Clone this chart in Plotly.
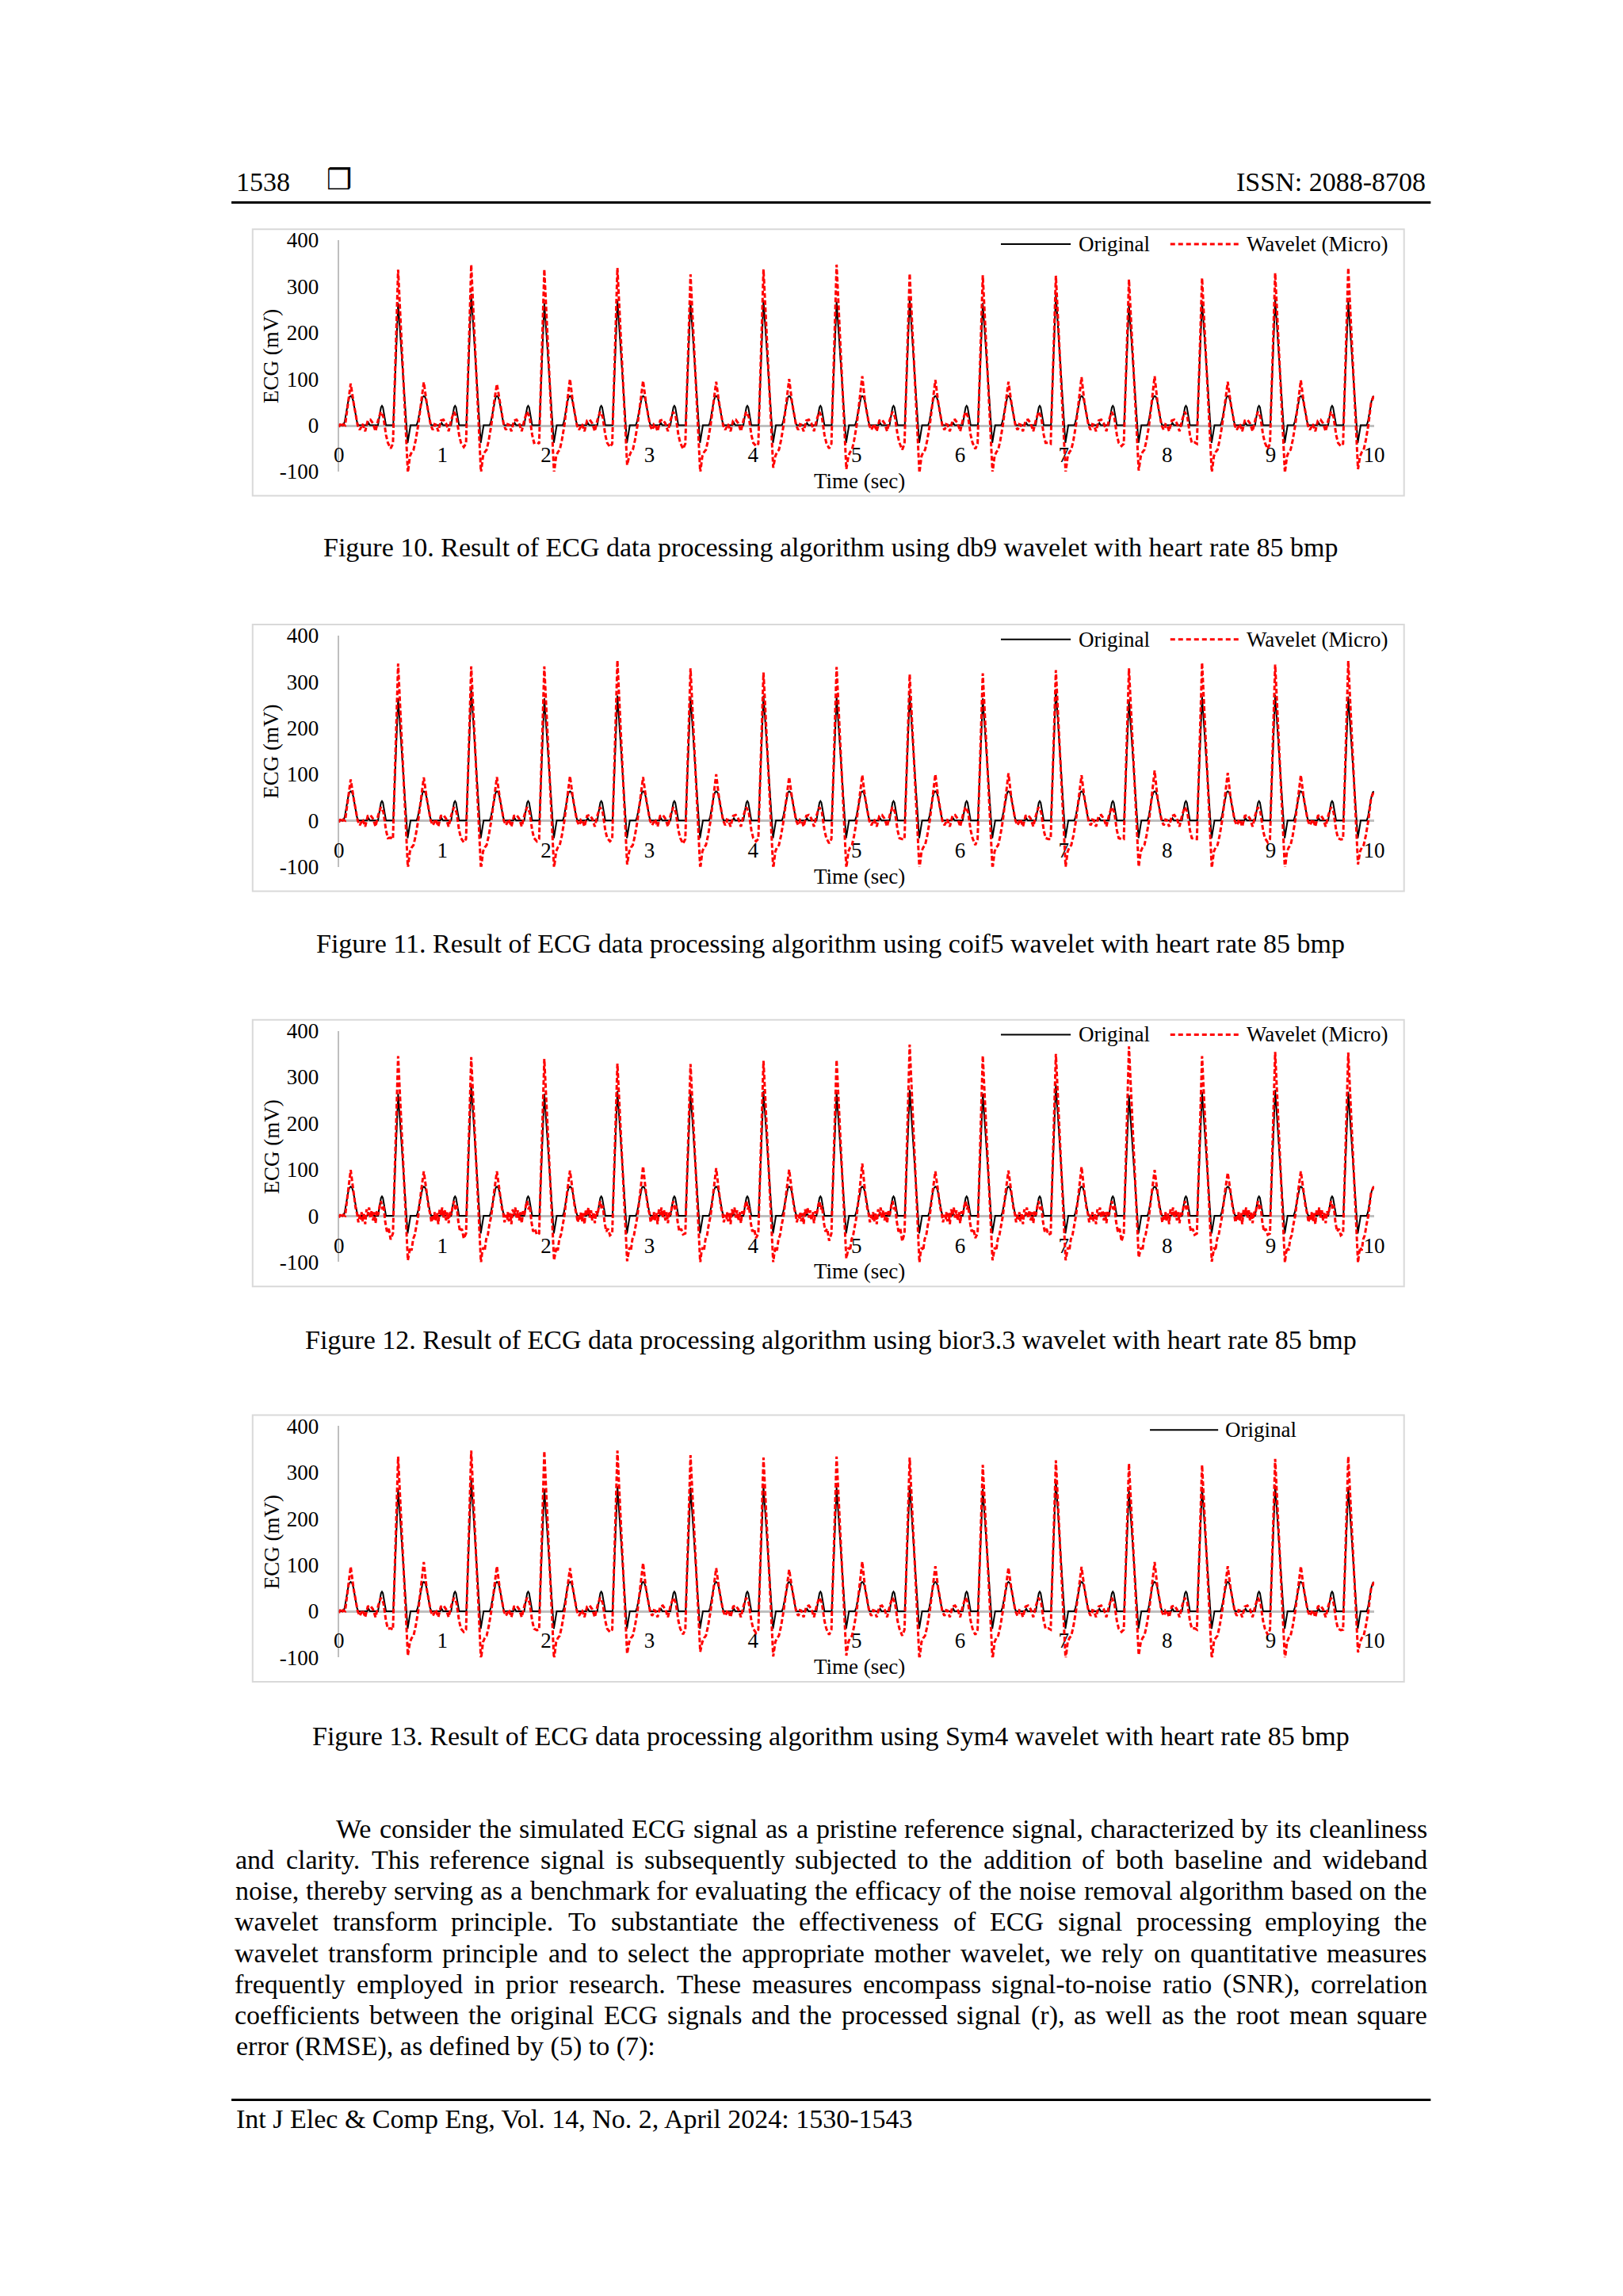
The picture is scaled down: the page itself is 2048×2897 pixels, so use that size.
import plotly.graph_objects as go

W, H = 2048, 2897

# ---------------- data ----------------
x_tick_vals = [0, 1, 2, 3, 4, 5, 6, 7, 8, 9, 10]
y_tick_vals = [-100, 0, 100, 200, 300, 400]
y_tick_text = ["-100", "0", "100", "200", "300", "400"]

# R-peak instants of the 85 bpm simulated ECG (beat 0 lies before t=0)
beat_r_times = [-0.134, 0.572, 1.278, 1.984, 2.690, 3.396, 4.101, 4.807,
                5.513, 6.219, 6.925, 7.631, 8.337, 9.043, 9.749]

# original (clean) signal: R height of beats 1..14 and one-beat shape
orig_r_peak = [264, 284, 264, 270, 267, 270, 267, 272, 264, 284, 261, 268, 272, 268]
orig_tmpl_off = [-0.353, -0.300, -0.286, -0.272, -0.194, -0.184, -0.174, -0.165,
                 -0.156, -0.147, -0.137, -0.127, -0.117, -0.047, 0.0, 0.092,
                 0.120, 0.134, 0.178, 0.190, 0.200, 0.212, 0.225, 0.237, 0.248,
                 0.260, 0.272, 0.284, 0.296, 0.308, 0.320, 0.352]
orig_tmpl_val = [0, 0, 5, 0, 0, 11, 28, 39, 42, 39, 28, 11, 0, 0, 'R', -38,
                 0, 0, 0, 8, 20, 38, 53, 61, 63, 61, 53, 38, 20, 8, 0, 0]

# wavelet output: one-beat shape (db9 / coif5 / Sym4)
red_tmpl_a_off = [-0.353, -0.340, -0.318, -0.293, -0.268, -0.243, -0.218, -0.192,
                  -0.167, -0.142, -0.117, -0.099, -0.072, -0.050, 0.0, 0.094,
                  0.114, 0.131, 0.149, 0.169, 0.194, 0.220, 0.248, 0.275, 0.300,
                  0.315, 0.335, 0.350]
red_tmpl_a_val = [2, 1, -13, 10, 12, 4, -13, 12, 29, 18, -21, -38, 'pre', -40,
                  'R', 'S', -67, -58, -53, -33, 0, 48, 'T', 50, 14, 0, -10, -4]
# wavelet output: one-beat shape (bior3.3, more jagged)
red_tmpl_b_off = [-0.353, -0.342, -0.330, -0.318, -0.305, -0.292, -0.280, -0.268,
                  -0.255, -0.243, -0.230, -0.218, -0.205, -0.192, -0.178, -0.165,
                  -0.152, -0.140, -0.125, -0.108, -0.090, -0.072, -0.050, 0.0,
                  0.094, 0.105, 0.117, 0.130, 0.145, 0.160, 0.175, 0.194, 0.220,
                  0.248, 0.275, 0.295, 0.310, 0.322, 0.338, 0.350]
red_tmpl_b_val = [8, -12, 6, -18, 14, 2, 18, -4, 12, -10, 8, -16, 10, 2, 22, 32,
                  14, 22, -12, -34, -28, 'pre', -38, 'R', 'S', -80, -68, -75, -50,
                  -42, -20, 0, 50, 'T', 52, 18, 4, -14, 2, -8]
red_lead_t = [0.0, 0.012, 0.025, 0.040]
red_lead_v = [-4, 3, -3, 2]

# per-beat extremes of the wavelet output (R, S, pre-R dip: beats 1..14; T: beats 0..14)
db9_r = [336, 347, 337, 340, 326, 337, 347, 328, 324, 323, 315, 318, 329, 340]
db9_s = [-103, -103, -103, -86, -103, -92, -95, -103, -103, -103, -98, -103, -103, -95]
db9_t = [90, 93, 89, 100, 96, 94, 100, 106, 98, 94, 104, 106, 94, 97, 64]
db9_pre = [-50, -47, -36, -47, -51, -45, -50, -53, -51, -38, -45, -37, -51, -45]

coif5_r = [339, 333, 333, 346, 329, 320, 332, 316, 318, 325, 329, 341, 337, 345]
coif5_s = [-103, -105, -103, -95, -105, -105, -103, -105, -105, -100, -100, -103, -105, -95]
coif5_t = [89, 93, 94, 96, 94, 100, 94, 98, 100, 102, 98, 108, 103, 98, 63]
coif5_pre = [-37, -47, -45, -45, -50, -45, -49, -40, -53, -40, -40, -40, -47, -41]

bior33_r = [345, 343, 339, 329, 328, 335, 337, 370, 346, 350, 366, 345, 354, 353]
bior33_s = [-96, -102, -96, -98, -102, -102, -92, -102, -96, -96, -90, -99, -102, -102]
bior33_t = [99, 96, 96, 98, 107, 103, 100, 113, 96, 98, 106, 99, 93, 96, 64]
bior33_pre = [-51, -49, -41, -42, -40, -48, -54, -55, -48, -41, -55, -41, -41, -42]

sym4_r = [334, 347, 346, 347, 337, 332, 334, 332, 316, 326, 319, 316, 329, 334]
sym4_s = [-96, -105, -105, -92, -88, -98, -96, -105, -105, -105, -95, -105, -105, -89]
sym4_t = [96, 106, 97, 93, 104, 93, 90, 107, 97, 94, 96, 106, 97, 97, 63]
sym4_pre = [-37, -45, -41, -45, -50, -47, -51, -53, -51, -37, -45, -37, -51, -41]

# ---------------- text ----------------
header_left = "1538"
header_symbol = "\u2752"
header_right = "ISSN: 2088-8708"
captions = [
    "Figure 10. Result of ECG data processing algorithm using db9 wavelet with heart rate 85 bmp",
    "Figure 11. Result of ECG data processing algorithm using coif5 wavelet with heart rate 85 bmp",
    "Figure 12. Result of ECG data processing algorithm using bior3.3 wavelet with heart rate 85 bmp",
    "Figure 13. Result of ECG data processing algorithm using Sym4 wavelet with heart rate 85 bmp",
]
legend_names = ["Original", "Wavelet (Micro)"]
y_title = "ECG (mV)"
x_title = "Time (sec)"
paragraph = [
    "We consider the simulated ECG signal as a pristine reference signal, characterized by its cleanliness",
    "and clarity. This reference signal is subsequently subjected to the addition of both baseline and wideband",
    "noise, thereby serving as a benchmark for evaluating the efficacy of the noise removal algorithm based on the",
    "wavelet transform principle. To substantiate the effectiveness of ECG signal processing employing the",
    "wavelet transform principle and to select the appropriate mother wavelet, we rely on quantitative measures",
    "frequently employed in prior research. These measures encompass signal-to-noise ratio (SNR), correlation",
    "coefficients between the original ECG signals and the processed signal (r), as well as the root mean square",
    "error (RMSE), as defined by (5) to (7):",
]
footer = "Int J Elec & Comp Eng, Vol. 14, No. 2, April 2024: 1530-1543"

# ---------------- build series ----------------
def series_orig():
    xs, ys = [], []
    for k, tr in enumerate(beat_r_times):
        for off, v in zip(orig_tmpl_off, orig_tmpl_val):
            t = round(tr + off, 4)
            if t < -1e-9 or t > 10.005:
                continue
            if v == 'R':
                v = orig_r_peak[k - 1]
            xs.append(t)
            ys.append(v)
    return xs, ys


def series_red(toff, tval, rv, sv, tv, pv):
    xs, ys = list(red_lead_t), list(red_lead_v)
    for k, tr in enumerate(beat_r_times):
        for off, v in zip(toff, tval):
            t = round(tr + off, 4)
            if t > 10.005:
                continue
            if k == 0 and off < 0.19:
                continue
            if v == 'R':
                v = rv[k - 1]
            elif v == 'S':
                v = sv[k - 1]
            elif v == 'T':
                v = tv[k]
            elif v == 'pre':
                v = pv[k - 1]
            xs.append(t)
            ys.append(v)
    return xs, ys


charts = [
    (red_tmpl_a_off, red_tmpl_a_val, db9_r, db9_s, db9_t, db9_pre, True),
    (red_tmpl_a_off, red_tmpl_a_val, coif5_r, coif5_s, coif5_t, coif5_pre, True),
    (red_tmpl_b_off, red_tmpl_b_val, bior33_r, bior33_s, bior33_t, bior33_pre, True),
    (red_tmpl_a_off, red_tmpl_a_val, sym4_r, sym4_s, sym4_t, sym4_pre, False),
]

SERIF = "Liberation Serif"
RED = "#ff0000"
GRAY = "#bfbfbf"

def px(x):
    return x / W

def py(y):
    return 1 - y / H

fig = go.Figure()
layout = {}
shapes = []
annotations = []

ox, oy = series_orig()
CH = 504
CAP_Y = [683, 1188, 1693, 2198]
for k, (toff, tval, rv, sv, tv, pv, two_leg) in enumerate(charts):
    xn = 'x' if k == 0 else f'x{k+1}'
    yn = 'y' if k == 0 else f'y{k+1}'
    zero = 527 + CH * k
    top = zero - 236
    bot = zero + 59
    fig.add_trace(go.Scatter(x=ox, y=oy, mode='lines', xaxis=xn, yaxis=yn,
                             line=dict(color='black', width=2), name=legend_names[0],
                             showlegend=False, hoverinfo='skip'))
    rx, ry = series_red(toff, tval, rv, sv, tv, pv)
    fig.add_trace(go.Scatter(x=rx, y=ry, mode='lines', xaxis=xn, yaxis=yn,
                             line=dict(color=RED, width=3, dash='6px,3px'),
                             name=legend_names[1], showlegend=False, hoverinfo='skip'))
    layout['xaxis' if k == 0 else f'xaxis{k+1}'] = dict(
        domain=[px(425), px(1745)], range=[0, 10], anchor='free', position=py(zero),
        showline=True, linecolor=GRAY, linewidth=3, ticks='', tickvals=x_tick_vals,
        tickfont=dict(family=SERIF, size=27, color='black'), ticklabelstandoff=12,
        showgrid=False, zeroline=False, layer='below traces', fixedrange=True)
    layout['yaxis' if k == 0 else f'yaxis{k+1}'] = dict(
        domain=[py(bot), py(top)], range=[-100, 400], anchor=xn,
        showline=True, linecolor=GRAY, linewidth=2, ticks='', tickvals=y_tick_vals,
        ticktext=y_tick_text,
        tickfont=dict(family=SERIF, size=27, color='black'), ticklabelstandoff=18,
        showgrid=False, zeroline=False, layer='below traces', fixedrange=True)
    # chart frame
    shapes.append(dict(type='rect', xref='paper', yref='paper',
                       x0=px(315), x1=px(1783), y0=py(277 + CH * k), y1=py(617 + CH * k),
                       line=dict(color='#d9d9d9', width=2), fillcolor='rgba(0,0,0,0)', layer='below'))
    # axis titles
    annotations.append(dict(text=y_title, x=px(339), y=py(439 + CH * k), xref='paper', yref='paper',
                            textangle=-90, showarrow=False, xanchor='center', yanchor='middle',
                            font=dict(family=SERIF, size=27, color='black')))
    annotations.append(dict(text=x_title, x=px(1089), y=py(598 + CH * k), xref='paper', yref='paper',
                            showarrow=False, xanchor='center', yanchor='middle',
                            font=dict(family=SERIF, size=27, color='black')))
    # legend
    ly = 296 + CH * k
    if two_leg:
        items = [(1269, 1358, 1367, 'black', 2, 'solid', legend_names[0]),
                 (1485, 1573, 1581, RED, 3, '6px,4px', legend_names[1])]
    else:
        items = [(1459, 1546, 1554, 'black', 2, 'solid', legend_names[0])]
    for x0, x1, xt, col, lw, dsh, name in items:
        shapes.append(dict(type='line', xref='paper', yref='paper', x0=px(x0), x1=px(x1),
                           y0=py(ly), y1=py(ly), line=dict(color=col, width=lw, dash=dsh)))
        annotations.append(dict(text=name, x=px(xt), y=py(ly), xref='paper', yref='paper',
                                showarrow=False, xanchor='left', yanchor='middle', borderpad=0,
                                font=dict(family=SERIF, size=27, color='black')))
    # caption
    annotations.append(dict(text=captions[k], x=px(1052), y=py(CAP_Y[k]), xref='paper',
                            yref='paper', showarrow=False, xanchor='center', yanchor='middle',
                            font=dict(family=SERIF, size=34, color='black')))

# header / footer
TXT = dict(family=SERIF, size=34, color='black')
annotations.append(dict(text=header_left, x=px(293), y=py(217), xref='paper', yref='paper',
                        showarrow=False, xanchor='left', yanchor='middle', borderpad=0, font=TXT))
annotations.append(dict(text="<b>" + header_symbol + "</b>", x=px(425), y=py(214), xref='paper',
                        yref='paper', showarrow=False, xanchor='center', yanchor='middle',
                        font=dict(family='DejaVu Sans', size=36, color='black')))
annotations.append(dict(text=header_right, x=px(1812), y=py(217), xref='paper', yref='paper',
                        showarrow=False, xanchor='right', yanchor='middle', borderpad=0, font=TXT))
for yl in (243, 2662):
    shapes.append(dict(type='line', xref='paper', yref='paper', x0=px(288), x1=px(1817),
                       y0=py(yl), y1=py(yl), line=dict(color='black', width=3)))
annotations.append(dict(text=footer, x=px(293), y=py(2686), xref='paper', yref='paper',
                        showarrow=False, xanchor='left', yanchor='middle', borderpad=0, font=TXT))

# justified paragraph (Times metrics), each word centred on its computed slot
TW = {' ': 250, '!': 333, '(': 333, ')': 333, ',': 250, '-': 333, '.': 250, ':': 278,
      ';': 278, '?': 444, '&': 778, '/': 278}
for c in '0123456789':
    TW[c] = 500
TW.update(dict(A=722, B=667, C=667, D=722, E=611, F=556, G=722, H=722, I=333, J=389, K=722,
               L=611, M=889, N=722, O=722, P=556, Q=722, R=667, S=556, T=611, U=722, V=722,
               W=944, X=722, Y=722, Z=611))
TW.update(dict(a=444, b=500, c=444, d=500, e=444, f=333, g=500, h=500, i=278, j=278, k=500,
               l=278, m=778, n=500, o=500, p=500, q=500, r=333, s=389, t=278, u=500, v=500,
               w=722, x=500, y=500, z=444))
FS = 34

def tw(s):
    return sum(TW.get(c, 500) for c in s) * FS / 1000.0

LEFT, RIGHT = 293, 1812
for i, line in enumerate(paragraph):
    yl = 2316 + 39.7 * i
    x0 = 420 if i == 0 else LEFT
    if i == len(paragraph) - 1:
        annotations.append(dict(text=line, x=px(x0), y=py(yl), xref='paper', yref='paper',
                                showarrow=False, xanchor='left', yanchor='middle', borderpad=0,
                                font=TXT))
        continue
    words = line.split(' ')
    widths = [tw(w) for w in words]
    gap = (RIGHT - x0 - sum(widths)) / (len(words) - 1)
    gap = max(gap, tw(' ') * 0.8)
    xc = x0
    for j, w in enumerate(words):
        annotations.append(dict(text=w, x=px(xc + widths[j] / 2), y=py(yl), xref='paper',
                                yref='paper', showarrow=False, xanchor='center',
                                yanchor='middle', font=TXT))
        xc += widths[j] + gap

fig.update_layout(width=W, height=H, margin=dict(l=0, r=0, t=0, b=0, pad=0),
                  paper_bgcolor='white', plot_bgcolor='white', showlegend=False,
                  shapes=shapes, annotations=annotations, **layout)
fig.write_html(
    "out.html",
    config={'displayModeBar': False, 'responsive': False},
    post_script=("document.documentElement.style.margin='0';"
                 "document.documentElement.style.overflow='hidden';"
                 "document.body.style.margin='0';document.body.style.padding='0';"
                 "document.body.style.overflow='hidden';"),
)
